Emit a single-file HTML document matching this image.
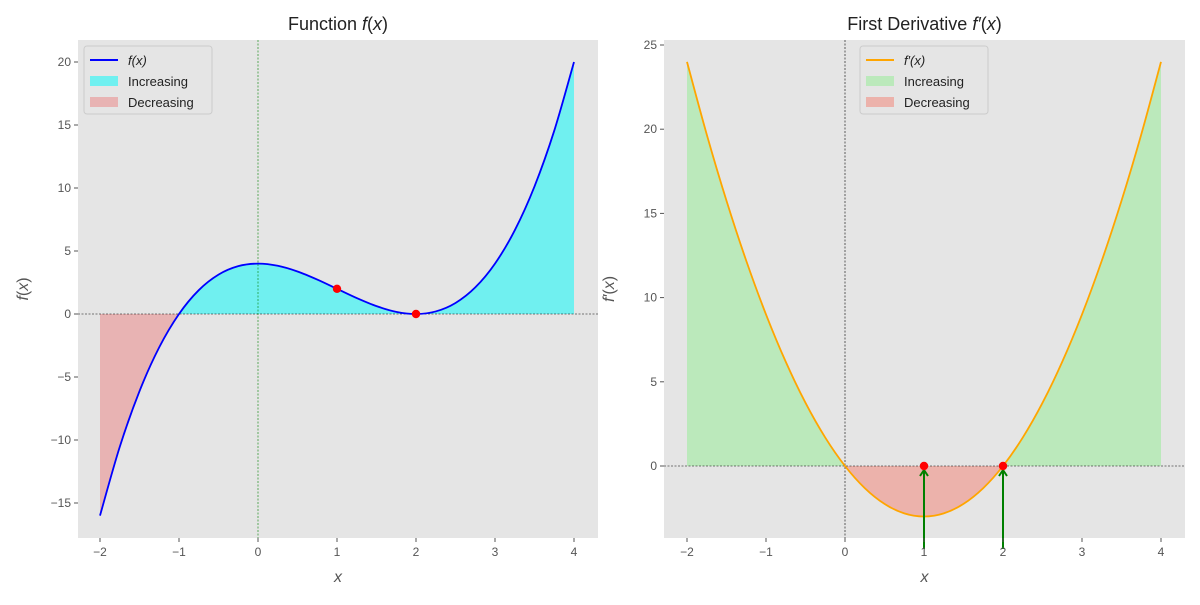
<!DOCTYPE html>
<html><head><meta charset="utf-8"><style>
body{margin:0;background:#fff;width:1200px;height:600px;overflow:hidden}
text{font-family:"Liberation Sans","DejaVu Sans",sans-serif}
</style></head><body>
<svg id="chart" width="1200" height="600" xmlns="http://www.w3.org/2000/svg"></svg>
<script>
const xs=[-2,-1.75,-1.5,-1.25,-1,-0.75,-0.5,-0.25,0,0.25,0.5,0.75,1,1.25,1.5,1.75,2,2.25,2.5,2.75,3,3.25,3.5,3.75,4];
const fVals=[-16,-10.546875,-6.125,-2.640625,0,1.890625,3.125,3.796875,4,3.828125,3.375,2.734375,2,1.265625,0.625,0.171875,0,0.203125,0.875,2.109375,4,6.640625,10.125,14.546875,20];
const dVals=[24,19.6875,15.75,12.1875,9,6.1875,3.75,1.6875,0,-1.3125,-2.25,-2.8125,-3,-2.8125,-2.25,-1.3125,0,1.6875,3.75,6.1875,9,12.1875,15.75,19.6875,24];
const xTicks=[-2,-1,0,1,2,3,4];
const fYTicks=[-15,-10,-5,0,5,10,15,20];
const dYTicks=[0,5,10,15,20,25];
const fPoints=[[1,2],[2,0]];
const dPoints=[[1,0],[2,0]];

const NS="http://www.w3.org/2000/svg";
const svg=document.getElementById('chart');
function mk(tag,attrs,parent,name,txt){const e=document.createElementNS(NS,tag);for(const k in attrs)e.setAttribute(k,attrs[k]);


if(txt!==undefined)e.textContent=txt;(parent||svg).appendChild(e);return e;}
function smooth(pts){let d=`M${pts[0][0]},${pts[0][1]}`;for(let i=0;i<pts.length-1;i++){const p0=pts[Math.max(0,i-1)],p1=pts[i],p2=pts[i+1],p3=pts[Math.min(pts.length-1,i+2)];
const c1=[p1[0]+(p2[0]-p0[0])/6,p1[1]+(p2[1]-p0[1])/6],c2=[p2[0]-(p3[0]-p1[0])/6,p2[1]-(p3[1]-p1[1])/6];
d+=`C${c1[0]},${c1[1]} ${c2[0]},${c2[1]} ${p2[0]},${p2[1]}`;}return d;}

function panel(o){
  const g=mk('g',{},svg,o.id+'-panel');
  const X=v=>o.x0+79*v, Y=v=>o.y0-o.ky*v;
  mk('rect',{x:o.L,y:40,width:o.R-o.L,height:498,fill:'#e5e5e5'},g,o.id+'-plot-area');
  const clipA=o.id+'ca',clipB=o.id+'cb';
  const defs=mk('defs',{},g,o.id+'-defs');
  const ca=mk('clipPath',{id:clipA},defs,'clip-above');mk('rect',{x:0,y:0,width:1200,height:Y(0)},ca,'clip-rect');
  const cb=mk('clipPath',{id:clipB},defs,'clip-below');mk('rect',{x:0,y:Y(0),width:1200,height:600},cb,'clip-rect');
  const pts=xs.map((x,i)=>[X(x),Y(o.vals[i])]);
  const curve=smooth(pts);
  const area=curve+`L${X(xs[xs.length-1])},${Y(0)}L${X(xs[0])},${Y(0)}Z`;
  const fc=mk('g',{'clip-path':`url(#${clipA})`},g,o.id+'-pos-fill');
  mk('path',{d:area,fill:o.posColor},fc,'increasing-area');
  const fr=mk('g',{'clip-path':`url(#${clipB})`},g,o.id+'-neg-fill');
  mk('path',{d:area,fill:o.negColor},fr,'decreasing-area');
  mk('line',{x1:o.L,x2:o.R,y1:Y(0),y2:Y(0),stroke:'#000','stroke-width':0.6,'stroke-dasharray':'2,1.5'},g,'zero-hline');
  mk('line',{x1:X(0),x2:X(0),y1:40,y2:538,stroke:o.vColor,'stroke-width':0.6,'stroke-dasharray':'2,1.5'},g,'zero-vline');
  mk('path',{d:curve,fill:'none',stroke:o.lineColor,'stroke-width':1.8},g,o.id+'-curve');
  if(o.arrows){o.points.forEach(p=>{
    mk('line',{x1:X(p[0]),x2:X(p[0]),y1:549,y2:Y(p[1])+5,stroke:'green','stroke-width':2},g,'arrow-shaft');
    mk('path',{d:`M${X(p[0])-4},${Y(p[1])+10}L${X(p[0])},${Y(p[1])+4}L${X(p[0])+4},${Y(p[1])+10}`,fill:'none',stroke:'green','stroke-width':2},g,'arrow-head');});}
  o.points.forEach(p=>mk('circle',{cx:X(p[0]),cy:Y(p[1]),r:4.2,fill:'red'},g,'critical-point'));
  xTicks.forEach(t=>{mk('line',{x1:X(t),x2:X(t),y1:538,y2:542,stroke:'#555'},g,'x-tick');
    mk('text',{x:X(t),y:556,'text-anchor':'middle','font-size':12,fill:'#555'},g,'x-tick-label',t<0?'−'+(-t):t);});
  o.yTicks.forEach(t=>{mk('line',{x1:o.L-4,x2:o.L,y1:Y(t),y2:Y(t),stroke:'#555'},g,'y-tick');
    mk('text',{x:o.L-7,y:Y(t)+4,'text-anchor':'end','font-size':12,fill:'#555'},g,'y-tick-label',t<0?'−'+(-t):t);});
  mk('text',{x:(o.L+o.R)/2,y:30,'text-anchor':'middle','font-size':18,fill:'#222'},g,'panel-title').innerHTML=o.title;
  mk('text',{x:(o.L+o.R)/2,y:582,'text-anchor':'middle','font-size':16,'font-style':'italic',fill:'#555'},g,'x-axis-title','x');
  mk('text',{x:0,y:0,transform:`translate(${o.L-50},289) rotate(-90)`,'text-anchor':'middle','font-size':16,fill:'#555'},g,'y-axis-title').innerHTML=o.ylabel;
  const lg=mk('g',{},g,'legend');
  mk('rect',{x:o.lx,y:46,width:128,height:68,rx:3,fill:'#e5e5e5',stroke:'#ccc'},lg,'legend-box');
  mk('line',{x1:o.lx+6,x2:o.lx+34,y1:60,y2:60,stroke:o.lineColor,'stroke-width':2},lg,'legend-line');
  mk('text',{x:o.lx+44,y:65,'font-size':13,'font-style':'italic',fill:'#222'},lg,'legend-entry').innerHTML=o.leg;
  mk('rect',{x:o.lx+6,y:76,width:28,height:10,fill:o.posColor},lg,'legend-swatch');
  mk('text',{x:o.lx+44,y:86,'font-size':13,fill:'#222'},lg,'legend-entry','Increasing');
  mk('rect',{x:o.lx+6,y:97,width:28,height:10,fill:o.negColor},lg,'legend-swatch');
  mk('text',{x:o.lx+44,y:107,'font-size':13,fill:'#222'},lg,'legend-entry','Decreasing');
}
panel({id:'f',L:78,R:598,x0:258,y0:314,ky:12.6,vals:fVals,yTicks:fYTicks,points:fPoints,posColor:'#70f0f0',negColor:'#e8b3b3',lineColor:'#0000ff',vColor:'green',title:'Function <tspan font-style="italic">f</tspan>(<tspan font-style="italic">x</tspan>)',ylabel:'<tspan font-style="italic">f</tspan>(<tspan font-style="italic">x</tspan>)',leg:'f(x)',lx:84});
panel({id:'d',L:664,R:1185,x0:845,y0:466,ky:16.84,vals:dVals,yTicks:dYTicks,points:dPoints,arrows:true,posColor:'#bbe9bb',negColor:'#ecb2ab',lineColor:'#ffa500',vColor:'#000',title:'First Derivative <tspan font-style="italic">f′</tspan>(<tspan font-style="italic">x</tspan>)',ylabel:'<tspan font-style="italic">f′</tspan>(<tspan font-style="italic">x</tspan>)',leg:'f′(x)',lx:860});
</script>
</body></html>
